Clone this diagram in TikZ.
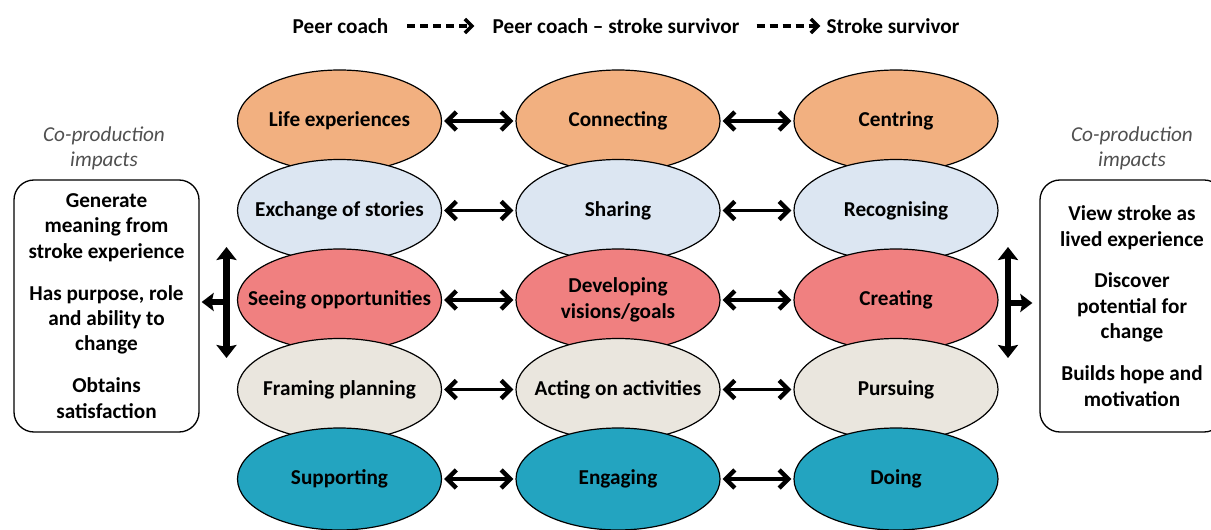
\documentclass[tikz,border=0pt]{standalone}
\usepackage{fontspec}
\setmainfont{Carlito}
\usetikzlibrary{shapes.geometric,arrows.meta}
\definecolor{corange}{RGB}{242,176,128}
\definecolor{cblue}{RGB}{220,230,242}
\definecolor{cred}{RGB}{240,128,128}
\definecolor{cbeige}{RGB}{234,230,222}
\definecolor{cteal}{RGB}{35,164,192}
\definecolor{cgray}{RGB}{80,80,80}
\begin{document}
\begin{tikzpicture}[x=1bp,y=-1bp,
  elltext/.style={inner sep=0pt, align=center, font=\fontsize{21.3}{25.5}\selectfont\bfseries},
  ell/.style={ellipse, draw=black, line width=1.2bp, minimum width=204bp, minimum height=102bp,
    inner sep=0pt, label={[elltext]center:#1}},
  link/.style={line width=3.5bp,
    {Straight Barb[length=9bp,width=18bp,line width=4.5bp]}-{Straight Barb[length=9bp,width=18bp,line width=4.5bp]},
    shorten <=2bp, shorten >=2bp},
  head/.style={inner sep=0pt, font=\fontsize{21.3}{25.5}\selectfont\bfseries},
  dasharrow/.style={line width=4.5bp, dash pattern=on 8bp off 5bp,
    -{Straight Barb[length=7bp,width=14bp,line width=3.5bp]}},
  impact/.style={font=\fontsize{21.3}{25.5}\selectfont\itshape, text=cgray, align=center, inner sep=0pt},
  ibox/.style={draw=black, line width=1.3bp, rounded corners=20bp, align=center, inner sep=0pt,
    font=\fontsize{21.3}{25.5}\selectfont\bfseries},
  bigarrow/.style={line width=6.5bp,
    {Stealth[length=13bp,width=20bp,inset=2bp]}-{Stealth[length=13bp,width=20bp,inset=2bp]}},
  branch/.style={line width=6bp, -{Stealth[length=12bp,width=18bp,inset=2bp]}}
]
\clip (0,0) rectangle (1211,530);
\fill[white] (0,0) rectangle (1211,530);

% header
\node[head] (pc) at (340.5,26) {Peer coach};
\node[head] (pcss) at (616,26) {Peer coach – stroke survivor};
\node[head] (ss) at (893,26) {Stroke survivor};
\draw[dasharrow, shorten <=19bp, shorten >=18bp] (pc.east) -- (pcss.west);
\draw[dasharrow, shorten <=17bp, shorten >=6bp] (pcss.east) -- (ss.west);

% ellipses, row by row (lower rows drawn on top)
\node[ell={Life experiences}, fill=corange] (a1) at (339.5,121) {};
\node[ell={Connecting}, fill=corange] (b1) at (618,121) {};
\node[ell={Centring}, fill=corange] (c1) at (896,121) {};

\node[ell={Exchange of stories}, fill=cblue] (a2) at (339.5,210.5) {};
\node[ell={Sharing}, fill=cblue] (b2) at (618,210.5) {};
\node[ell={Recognising}, fill=cblue] (c2) at (896,210.5) {};

\node[ell={Seeing opportunities}, fill=cred] (a3) at (339.5,300) {};
\node[ell={Developing\\visions/goals}, fill=cred] (b3) at (618,300) {};
\node[ell={Creating}, fill=cred] (c3) at (896,300) {};

\node[ell={Framing planning}, fill=cbeige] (a4) at (339.5,389.5) {};
\node[ell={Acting on activities}, fill=cbeige] (b4) at (618,389.5) {};
\node[ell={Pursuing}, fill=cbeige] (c4) at (896,389.5) {};

\node[ell={Supporting}, fill=cteal] (a5) at (339.5,479) {};
\node[ell={Engaging}, fill=cteal] (b5) at (618,479) {};
\node[ell={Doing}, fill=cteal] (c5) at (896,479) {};

\foreach \r in {1,...,5}{
  \draw[link] (a\r.east) -- (b\r.west);
  \draw[link] (b\r.east) -- (c\r.west);
}

% co-production impacts
\node[impact] (lt) at (104,148.5) {Co-production\\impacts};
\node[impact] (rt) at (1132,148.5) {Co-production\\impacts};

\node[ibox, minimum width=185bp, minimum height=252bp] (lbox) at (106.5,306)
  {Generate\\meaning from\\stroke experience\\[16.5bp]Has purpose, role\\and ability to\\change\\[16.5bp]Obtains\\satisfaction};
\node[ibox, minimum width=184bp, minimum height=252bp] (rbox) at (1132,306)
  {View stroke as\\lived experience\\[16.5bp]Discover\\potential for\\change\\[16.5bp]Builds hope and\\motivation};

% side arrows
\coordinate (lt1) at (226.5,247);
\coordinate (lb1) at (226.5,358);
\coordinate (lm) at (229,302);
\draw[bigarrow] (lt1) -- (lb1);
\draw[branch, shorten >=2bp] (lm) -- (lbox.east |- lm);

\coordinate (rt1) at (1008,247);
\coordinate (rb1) at (1008,358);
\coordinate (rm) at (1005.5,303);
\draw[bigarrow] (rt1) -- (rb1);
\draw[branch, shorten >=7bp] (rm) -- (rbox.west |- rm);
\end{tikzpicture}
\end{document}
